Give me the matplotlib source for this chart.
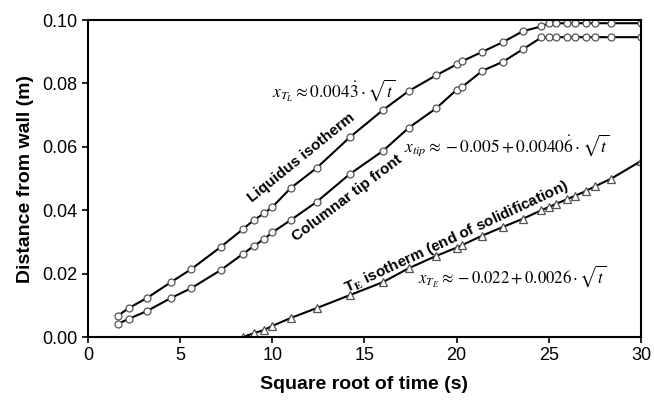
import matplotlib
matplotlib.use("Agg")
import matplotlib.pyplot as plt

plt.rcParams['font.family'] = ['Liberation Sans', 'DejaVu Sans']
plt.rcParams['mathtext.fontset'] = 'stix'

# square root of time (s)
sqrt_t = [1.6, 2.2, 3.2, 4.5, 5.6, 7.2, 8.4, 9.0, 9.55, 10.0, 11.0, 12.4, 14.2, 16.0,
          17.4, 18.9, 20.0, 20.3, 21.4, 22.5, 23.6, 24.6, 25.0, 25.4, 26.0, 26.4,
          27.0, 27.5, 28.4, 30.0]
liquidus = [0.0066, 0.0091, 0.0123, 0.0173, 0.0214, 0.0284, 0.034, 0.0369, 0.039, 0.041,
            0.047, 0.0533, 0.063, 0.0716, 0.0776, 0.0826, 0.086, 0.087, 0.090, 0.093,
            0.0965, 0.098, 0.099, 0.099, 0.099, 0.099, 0.099, 0.099, 0.099, 0.099]
tip = [0.0041, 0.0057, 0.0082, 0.0123, 0.0154, 0.0211, 0.0262, 0.0287, 0.0309, 0.033,
       0.0369, 0.0426, 0.0514, 0.0587, 0.066, 0.0722, 0.078, 0.0789, 0.084, 0.0868,
       0.0908, 0.0945, 0.0946, 0.0946, 0.0946, 0.0946, 0.0946, 0.0946, 0.0946, 0.0946]
te_x = sqrt_t[6:]
te = [0.0, 0.0012, 0.0022, 0.0035, 0.006, 0.0091, 0.0132, 0.0173, 0.0217, 0.0256,
      0.0282, 0.029, 0.032, 0.0347, 0.0373, 0.0400, 0.041, 0.042, 0.0435, 0.0445,
      0.0460, 0.0475, 0.050, 0.0555]

fig = plt.figure(figsize=(6.54, 4.01), dpi=100)
ax = fig.add_axes([0.1346, 0.1596, 0.8454, 0.7904])

mk = dict(color='black', lw=1.5, markerfacecolor='white', markeredgecolor='#555555',
          markeredgewidth=0.9)
ax.plot(sqrt_t, liquidus, marker='o', markersize=5, **mk)
ax.plot(sqrt_t, tip, marker='o', markersize=5, **mk)
ax.plot(te_x, te, marker='^', markersize=6, **mk)

ax.set_xlim(0, 30)
ax.set_ylim(0, 0.10)
ax.set_xticks([0, 5, 10, 15, 20, 25, 30])
ax.set_yticks([0.0, 0.02, 0.04, 0.06, 0.08, 0.10])
ax.set_yticklabels(['0.00', '0.02', '0.04', '0.06', '0.08', '0.10'])
ax.tick_params(direction='out', length=4, width=1.2, labelsize=13, top=False, right=False)
for s in ax.spines.values():
    s.set_linewidth(1.5)

ax.set_xlabel('Square root of time (s)', fontsize=14, fontweight='bold', labelpad=8)
ax.set_ylabel('Distance from wall (m)', fontsize=14, fontweight='bold', labelpad=6)

ax.text(11.6, 0.0565, 'Liquidus isotherm', rotation=39, fontsize=11, fontweight='bold',
        ha='center', va='center')
ax.text(14.05, 0.0438, 'Columnar tip front', rotation=37, fontsize=11, fontweight='bold',
        ha='center', va='center')
ax.text(20.0, 0.0315, r'T$_\mathbf{E}$ isotherm (end of solidification)', rotation=25,
        fontsize=11, fontweight='bold', ha='center', va='center')

ax.text(13.3, 0.078, r'$x_{T_L} \approx 0.004\dot{3}\cdot\sqrt{t}$', fontsize=12.5,
        ha='center', va='center')
ax.text(22.7, 0.0606, r'$x_{tip} \approx -0.005+0.0040\dot{6}\cdot\sqrt{t}$', fontsize=12.5,
        ha='center', va='center')
ax.text(23.0, 0.0192, r'$x_{T_E} \approx -0.022+0.0026\cdot\sqrt{t}$', fontsize=12,
        ha='center', va='center')

fig.savefig('out.png', dpi=100)
